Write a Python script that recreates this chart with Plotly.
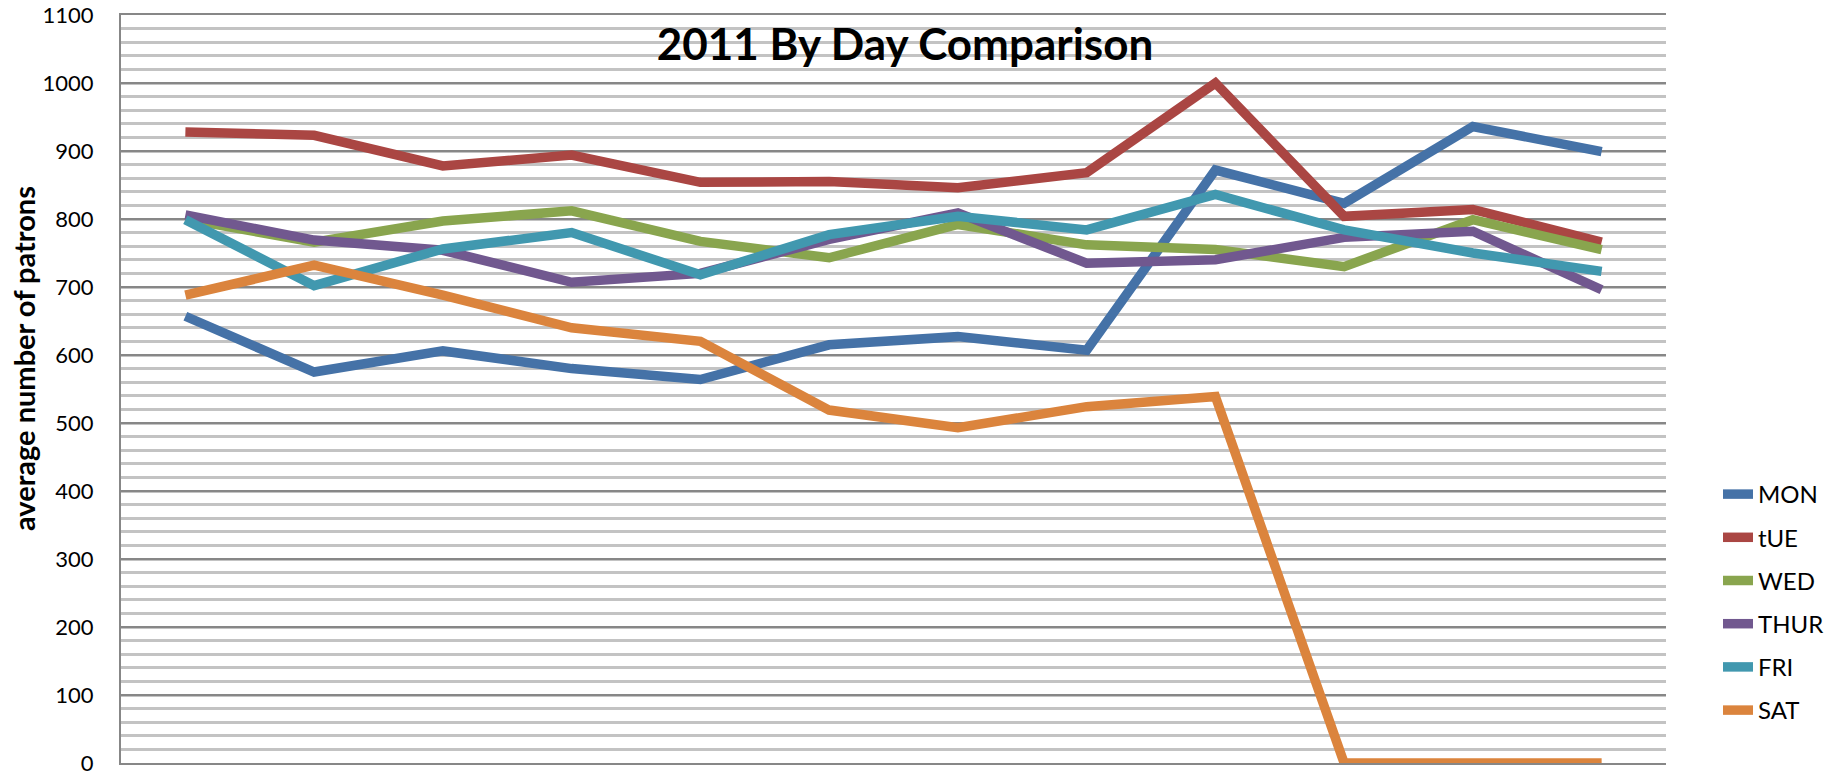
import plotly.graph_objects as go

months = ["Jan", "Feb", "Mar", "Apr", "May", "Jun", "Jul", "Aug", "Sep", "Oct", "Nov", "Dec"]

mon = [657, 575, 606, 580, 564, 615, 627, 607, 872, 823, 936, 899]
tue = [928, 923, 878, 894, 854, 855, 846, 868, 1000, 804, 814, 766]
wed = [800, 766, 797, 812, 767, 743, 792, 762, 755, 730, 799, 755]
thur = [806, 769, 754, 707, 720, 770, 809, 735, 740, 773, 782, 696]
fri = [799, 702, 756, 780, 718, 777, 804, 784, 836, 784, 750, 723]
sat = [688, 732, 688, 640, 620, 519, 493, 524, 539, 0, 0, 0]

series_names = ["MON", "tUE", "WED", "THUR", "FRI", "SAT"]
series_values = [mon, tue, wed, thur, fri, sat]
series_colors = ["#4572A7", "#AA4643", "#89A54E", "#71588F", "#4198AF", "#DB843D"]

y_ticks = list(range(0, 1101, 100))

FONT = "Lato, 'Open Sans', sans-serif"

fig = go.Figure()
for name, vals, col in zip(series_names, series_values, series_colors):
    fig.add_trace(go.Scatter(
        x=months, y=vals, name=name, mode="lines",
        line=dict(color=col, width=9.5),
        legendgroup=name,
    ))

W, H = 1838, 779
L, R, T, B = 121, 172, 15, 16
PW, PH = W - L - R, H - T - B

fig.update_layout(
    width=W, height=H,
    margin=dict(l=L, r=R, t=T, b=B, autoexpand=False),
    paper_bgcolor="white", plot_bgcolor="white",
    font=dict(family=FONT, color="#000000", size=22),
    title=dict(
        text="<b>2011 By Day Comparison</b>",
        font=dict(family=FONT, size=44, color="#000000"),
        x=905 / W, xanchor="center", xref="container",
        y=1 - 45 / H, yanchor="middle", yref="container",
    ),
    showlegend=True,
    legend=dict(
        x=1718 / W, xref="container", xanchor="left",
        y=1 - 472 / H, yref="container", yanchor="top",
        traceorder="grouped", tracegroupgap=9,
        font=dict(family=FONT, size=24, color="#000000"),
        bgcolor="rgba(0,0,0,0)", borderwidth=0,
    ),
    xaxis=dict(
        type="category", range=[-0.5, 11.5],
        showticklabels=False, showgrid=False, zeroline=False,
        showline=True, mirror=True, linecolor="#878787", linewidth=2,
        ticks="",
    ),
    yaxis=dict(
        range=[0, 1100], tickvals=y_ticks,
        showgrid=True, gridcolor="#878787", gridwidth=2,
        minor=dict(dtick=20, showgrid=True, gridcolor="#c3c3c3", gridwidth=3, ticks=""),
        zeroline=False,
        showline=True, linecolor="#878787", linewidth=2,
        ticks="", ticklabelstandoff=21, ticklabeloverflow="allow",
        tickfont=dict(family=FONT, size=22, color="#000000"),
        automargin=False,
    ),
    annotations=[dict(
        text="<b>average number of patrons</b>",
        textangle=-90, xref="paper", yref="paper",
        x=(24 - L) / PW, y=(763 - 359) / PH,
        xanchor="center", yanchor="middle", showarrow=False,
        font=dict(family=FONT, size=29, color="#000000"),
    )],
)

fig.write_html("out.html", config={"displayModeBar": False},
               post_script="document.body.style.margin='0';")
